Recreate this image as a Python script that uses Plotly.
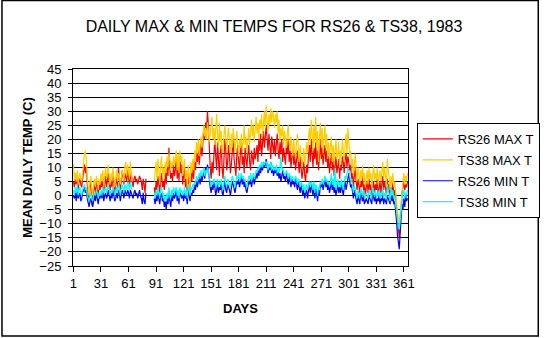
import plotly.graph_objects as go

N = None
# RS26 daily max temperature (C), day 1..365
rs26_max = [
    5, 3, 6, 4, 7, 2, 5, 6, 4, 3,
    6, 9, 11, 8, 10, 4, 1, -2, 3, 5,
    0, -3, 2, 4, 1, 5, 3, 0, 4, 2,
    5, 3, 6, 1, 4, 7, 3, 5, 8, 4,
    2, 6, 3, 8, 5, 1, 4, 7, 3, 10,
    6, 2, 5, 9, 7, 4, 8, 6, 5, 9,
    7, 4, 6, 8, 5, 3, 6, 7, 5, 6,
    4, 6, 7, 6, 5, 2, 6, 4, 1, 6,
    N, N, N, N, N, N, N, N,
    3, 0, 5, 2, 7, 4, 1, 6, 8, 3, 5, 2,
    9, 4, 12, 7, 17, 10, 6, 8, 5, 11,
    7, 9, 13, 6, 10, 5, 14, 8, 11, 4,
    7, 10, 3, 6, 1, 8, 4, 0, 9, 5,
    10, 6, 13, 9, 16, 12, 18, 11, 15, 19,
    14, 22, 24, 20, 26, 23, 30, 25, 15, 10,
    6, 12, 8, 17, 20, 14, 9, 19, 12, 7,
    15, 18, 10, 6, 13, 20, 16, 9, 12, 18,
    14, 8, 11, 17, 20, 13, 10, 7, 15, 18,
    12, 9, 16, 19, 11, 14, 8, 17, 13, 10,
    15, 18, 12, 9, 16, 14, 11, 17, 13, 15,
    18, 12, 20, 16, 22, 14, 19, 23, 17, 21,
    25, 20, 16, 22, 18, 13, 21, 17, 15, 20,
    14, 18, 22, 16, 13, 19, 15, 20, 12, 17,
    14, 11, 18, 15, 20, 12, 16, 10, 14, 17,
    11, 15, 9, 13, 16, 12, 8, 14, 10, 6,
    9, 12, 7, 5, 11, 8, 14, 18, 12, 20,
    15, 10, 17, 13, 19, 11, 16, 9, 14, 20,
    13, 17, 11, 15, 18, 12, 16, 10, 14, 8,
    12, 15, 9, 13, 7, 11, 14, 8, 10, 13,
    6, 11, 9, 14, 12, 8, 13, 15, 10, 14,
    12, 9, 11, 6, 8, 3, 7, 10, 5, 2,
    6, 4, 1, 5, 3, 7, 2, 4, 0, 3,
    5, 1, 6, 2, 4, -1, 3, 5, 1, 4,
    2, 6, 0, 3, 5, 1, 4, 7, 2, 5,
    3, 0, 6, 2, 4, -2, 3, 1, 5, 0,
    2, -3, -5, -9, -12, -15, -10, -4, 1, 3,
    5, 2, 4, 3, 5,
]

# TS38 daily max temperature (C)
ts38_max = [
    11, 6, 8, 5, 9, 4, 7, 8, 6, 5,
    8, 12, 15, 16, 13, 6, 3, 0, 5, 7,
    2, 0, 4, 6, 3, 7, 5, 2, 6, 4,
    8, 5, 9, 3, 7, 10, 6, 8, 11, 6,
    4, 8, 5, 10, 7, 3, 6, 9, 5, 8,
    7, 4, 6, 9, 8, 5, 10, 12, 7, 11,
    9, 6, 12, 8, 5,
    N, N, N, N, N, N, N, N, N, N, N, N, N, N, N, N, N, N, N, N, N, N, N,
    5, 8, 12, 6, 13, 9, 4, 11, 14, 7, 10, 6,
    12, 8, 14, 10, 15, 13, 9, 12, 10, 14,
    11, 13, 16, 9, 15, 8, 16, 12, 14, 7,
    10, 13, 6, 9, 3, 11, 7, 2, 12, 8,
    13, 9, 16, 12, 19, 15, 20, 14, 18, 21,
    17, 22, 25, 21, 24, 20, 26, 23, 19, 22,
    25, 28, 20, 24, 18, 23, 29, 21, 17, 26,
    19, 23, 15, 18, 22, 25, 20, 16, 21, 24,
    19, 15, 22, 17, 24, 20, 16, 19, 23, 18,
    14, 20, 17, 22, 16, 19, 25, 18, 21, 15,
    20, 24, 18, 22, 27, 21, 25, 19, 23, 28,
    22, 26, 20, 27, 24, 29, 21, 26, 30, 24,
    32, 27, 23, 29, 25, 31, 26, 30, 28, 24,
    29, 26, 30, 22, 27, 19, 24, 21, 25, 18,
    23, 20, 17, 22, 25, 19, 16, 21, 18, 14,
    20, 17, 13, 19, 22, 16, 12, 18, 15, 10,
    14, 17, 11, 13, 19, 15, 20, 24, 18, 27,
    22, 16, 25, 19, 28, 17, 23, 12, 20, 26,
    18, 24, 15, 21, 25, 17, 22, 13, 19, 14,
    17, 21, 12, 18, 11, 16, 20, 13, 15, 19,
    10, 16, 14, 20, 17, 12, 18, 22, 15, 24,
    19, 14, 16, 10, 13, 7, 11, 15, 9, 5,
    10, 8, 4, 9, 6, 11, 5, 8, 3, 7,
    9, 4, 10, 6, 8, 3, 7, 11, 5, 8,
    6, 10, 4, 7, 9, 5, 8, 12, 6, 10,
    7, 3, 13, 8, 6, 2, 7, 4, 8, 3,
    5, 0, -2, -5, -8, -10, -6, -2, 3, 6,
    8, 4, 7, 5, 8,
]

# RS26 daily min temperature (C)
rs26_min = [
    0, -1, 1, -2, 2, -1, 0, 1, -2, -1,
    1, 2, 3, 1, 2, -1, -3, -4, -2, -1,
    -3, -4, -2, 0, -2, 1, -1, -3, 0, -1,
    1, -1, 2, -2, 0, 1, -1, 0, 2, -1,
    -2, 1, -1, 2, 0, -2, -1, 1, -1, 2,
    1, -2, 0, 2, 1, -1, 2, 1, 0, 2,
    1, -1, 2, 1, 0, -1, 1, 2, 0, 1,
    -1, 1, 2, 0, -1, -3, 1, -2, -3, 1,
    N, N, N, N, N, N, N, N,
    -1, -3, 0, -2, 1, -1, -3, 0, 1, -2, -1, -4,
    -2, -5, -1, -3, 1, -2, -4, 0, -2, 1,
    -1, 0, 2, -2, 1, -3, 2, 0, -1, 1,
    -2, 1, -1, 0, -3, 2, -1, -2, 1, 0,
    2, 1, 4, 2, 6, 3, 5, 7, 4, 8,
    5, 7, 9, 6, 10, 8, 11, 9, 5, 3,
    1, 4, 2, 5, 3, 0, 2, 4, 1, 3,
    2, 5, 1, 0, 3, 5, 2, 1, 4, 3,
    2, 0, 3, 5, 4, 2, 1, 3, 5, 4,
    6, 3, 5, 7, 4, 6, 3, 5, 2, 1,
    3, 5, 4, 6, 3, 5, 7, 4, 6, 8,
    6, 9, 7, 10, 8, 11, 9, 12, 10, 11,
    13, 10, 8, 11, 9, 12, 8, 10, 7, 9,
    8, 10, 7, 9, 6, 8, 5, 7, 9, 6,
    7, 5, 8, 6, 4, 7, 5, 3, 6, 4,
    5, 3, 6, 4, 2, 5, 3, 1, 4, 2,
    0, 3, -1, 1, 2, -1, 3, 4, 1, 5,
    2, 0, 4, -1, 3, 1, -2, 2, 0, 4,
    3, 5, 2, 4, 6, 3, 5, 2, 4, 1,
    3, 5, 2, 4, 1, 3, 0, 2, 4, 1,
    3, 1, 4, 2, 0, 3, 5, 2, 4, 6,
    8, 5, 3, 4, 1, -1, 2, 0, -2, -3,
    0, -2, -3, 1, -1, -2, 0, -3, -2, -1,
    -2, -3, 0, -1, -2, -3, 1, -1, -2, 0,
    -3, -1, -2, 0, -3, -1, -2, 1, -3, -1,
    -2, -3, 0, -1, -2, -3, 1, -2, 0, -3,
    -2, -5, -9, -14, -17, -19, -13, -8, -3, -5,
    -1, -4, 0, -2, -1,
]

# TS38 daily min temperature (C)
ts38_min = [
    2, 0, 3, 1, 4, 0, 2, 3, 1, 0,
    2, 3, 4, 2, 3, 0, -1, -2, 0, 1,
    -1, -2, 0, 1, 0, 2, 1, -1, 1, 0,
    2, 0, 3, 1, 2, 3, 1, 2, 4, 2,
    0, 2, 1, 3, 2, 0, 1, 3, 1, 4,
    3, 0, 2, 4, 3, 1, 4, 3, 2, 5,
    4, 2, 5, 3, 2,
    N, N, N, N, N, N, N, N, N, N, N, N, N, N, N, N, N, N, N, N, N, N, N,
    1, -1, 2, 0, 3, 1, -1, 2, 3, 0, 1, -2,
    0, -2, 1, -1, 3, 0, -1, 2, 0, 3,
    1, 2, 3, 0, 2, -1, 3, 1, 2, 0,
    1, 3, 0, 2, -1, 4, 1, 0, 3, 2,
    4, 3, 5, 4, 7, 5, 6, 8, 6, 9,
    7, 8, 10, 7, 9, 8, 10, 9, 6, 5,
    3, 5, 4, 6, 5, 3, 4, 6, 3, 5,
    4, 6, 3, 2, 5, 7, 4, 3, 6, 5,
    4, 3, 5, 7, 6, 4, 3, 5, 7, 6,
    8, 5, 7, 8, 6, 7, 5, 6, 4, 3,
    5, 7, 6, 8, 5, 7, 8, 6, 7, 9,
    8, 10, 9, 11, 10, 12, 10, 12, 11, 12,
    12, 11, 9, 11, 10, 12, 9, 11, 9, 10,
    9, 11, 8, 10, 8, 10, 14, 9, 10, 8,
    8, 7, 9, 8, 6, 8, 7, 5, 7, 6,
    6, 5, 7, 6, 4, 6, 5, 3, 5, 4,
    2, 4, 1, 3, 4, 2, 4, 5, 3, 5,
    4, 2, 5, 1, 4, 3, 0, 3, 2, 5,
    4, 6, 4, 5, 7, 5, 6, 4, 5, 3,
    5, 8, 4, 6, 3, 10, 2, 4, 6, 3,
    5, 3, 6, 4, 2, 5, 7, 6, 8, 10,
    9, 7, 5, 6, 3, 1, 4, 2, 0, -1,
    2, 0, -1, 3, 1, 0, 2, -1, 0, 1,
    0, -1, 2, 1, 0, -1, 3, 1, 0, 2,
    -1, 1, 0, 2, -1, 1, 0, 3, -1, 1,
    0, -1, 4, 1, 0, -2, 3, 0, 2, -1,
    0, -3, -6, -9, -11, -12, -8, -4, -1, 1,
    2, -1, 1, 0, 2,
]

series_names = ["RS26 MAX T", "TS38 MAX T", "RS26 MIN T", "TS38 MIN T"]
series_values = [rs26_max, ts38_max, rs26_min, ts38_min]
series_colors = ["#FF0000", "#FFCC00", "#0000FF", "#00FFFF"]

tick_days = list(range(1, 362, 30))
tick_labels = [str(d) for d in tick_days]

FONT = "Liberation Sans, Arial, sans-serif"
W, H = 552, 338
ML, MR, MT, MB = 73, 137, 69, 72
PW, PH = W - ML - MR, H - MT - MB

fig = go.Figure()
for name, vals, col in zip(series_names, series_values, series_colors):
    fig.add_trace(go.Scatter(
        x=list(range(1, len(vals) + 1)), y=vals, mode="lines", name=name,
        line=dict(color=col, width=1.2), connectgaps=False, legendgroup=name,
    ))

def px_x(p):
    return (p - ML) / PW

def px_y(p):
    return (H - MB - p) / PH

fig.update_layout(
    width=W, height=H,
    margin=dict(l=ML, r=MR, t=MT, b=MB),
    paper_bgcolor="white", plot_bgcolor="white",
    font=dict(family=FONT, size=13, color="black"),
    title=dict(text="DAILY MAX & MIN TEMPS FOR RS26 & TS38, 1983",
               x=274 / W, xanchor="center", y=1 - 26 / H, yanchor="middle",
               font=dict(family=FONT, size=16, color="black")),
    showlegend=True,
    legend=dict(x=px_x(424), y=px_y(123), xanchor="left", yanchor="top",
                bordercolor="black", borderwidth=1, bgcolor="white",
                font=dict(family=FONT, size=13, color="black"),
                tracegroupgap=1, itemwidth=30),
    xaxis=dict(range=[0.5, 365.5], tickmode="array", tickvals=tick_days,
               ticktext=tick_labels, ticks="outside", ticklen=5,
               tickcolor="black", showline=True, linecolor="black",
               linewidth=1, mirror=True, showgrid=False, zeroline=False,
               tickfont=dict(family=FONT, size=13, color="black"),
               title=dict(text="<b>DAYS</b>", standoff=14,
                          font=dict(family=FONT, size=13, color="black"))),
    yaxis=dict(range=[-25, 45], dtick=5, tick0=0, ticks="outside", ticklen=4,
               tickcolor="black", showline=True, linecolor="black",
               linewidth=1, mirror=True, showgrid=True, gridcolor="black",
               gridwidth=1, zeroline=False, ticklabelstandoff=4,
               tickfont=dict(family=FONT, size=13, color="black"),
               title=dict(text="<b>MEAN DAILY TEMP (C)</b>", standoff=3,
                          font=dict(family=FONT, size=13, color="black"))),
    shapes=[dict(type="rect", xref="paper", yref="paper",
                 x0=px_x(0.5), x1=px_x(548), y0=px_y(336), y1=px_y(0.5),
                 line=dict(color="black", width=1.5), layer="below")],
)

fig.write_html("out.html")
